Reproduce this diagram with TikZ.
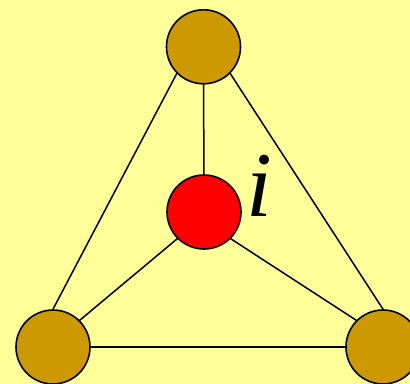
\documentclass[tikz,border=0pt]{standalone}
\usepackage{fontspec}
\setmainfont{Liberation Serif}
\definecolor{bgyellow}{HTML}{FFFF99}
\definecolor{goldball}{HTML}{CC9900}
\begin{document}
\begin{tikzpicture}[x=1bp,y=-1bp,line cap=round,line join=round,
  ball/.style={circle,draw=black,line width=1.6bp,minimum size=74bp,inner sep=0pt},
  edge/.style={line width=1.5bp}]
  \useasboundingbox (0,0) rectangle (410,384);
  \fill[bgyellow] (0,0) rectangle (410,384);
  \node[ball,fill=goldball] (top) at (203.5,46.8) {};
  \node[ball,fill=red] (mid) at (204,212) {};
  \node[ball,fill=goldball] (left) at (53,347) {};
  \node[ball,fill=goldball] (right) at (383,347) {};
  \draw[edge] (top.south) -- (mid.north);
  \draw[edge] (top.south west) -- (left.north);
  \draw[edge] (top.south east) -- (right.north);
  \draw[edge] (mid.south west) -- (left.north east);
  \draw[edge] (mid.south east) -- (right.north west);
  \draw[edge] (left.east) -- (right.west);
  \node[anchor=base,inner sep=0pt] (lbl) at (259,216) {\fontsize{93}{96}\selectfont\itshape i};
\end{tikzpicture}
\end{document}
